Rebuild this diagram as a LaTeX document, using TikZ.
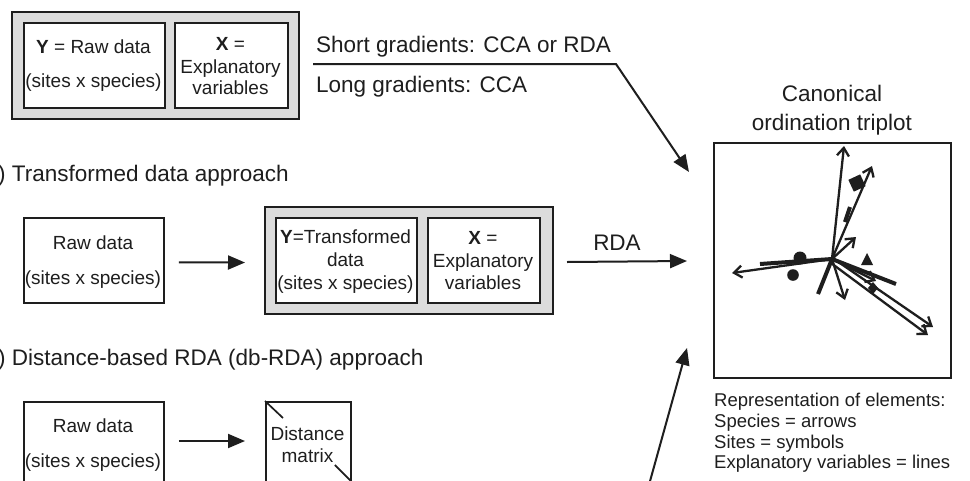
\documentclass[tikz,border=0pt]{standalone}
\usepackage{fontspec}
\setmainfont{Liberation Sans}
\usetikzlibrary{arrows.meta,calc}
\definecolor{boxgray}{HTML}{DCDCDC}
\definecolor{ink}{HTML}{1E1E1E}
\begin{document}
\begin{tikzpicture}[x=1pt,y=-1pt,
  grp/.style={draw=ink, line width=2pt, fill=boxgray, inner sep=0pt, anchor=north west},
  wbox/.style={draw=ink, line width=1.9pt, fill=white, inner sep=0pt, anchor=north west},
  lbl/.style={font=\fontsize{22.5}{27}\selectfont, text=ink, inner sep=0pt, anchor=base west},
  lblc/.style={font=\fontsize{22.5}{27}\selectfont, text=ink, inner sep=0pt, anchor=base},
  btxt/.style={font=\fontsize{19}{22}\selectfont, text=ink, inner sep=0pt, anchor=base},
  lgd/.style={font=\fontsize{18.5}{22}\selectfont, text=ink, inner sep=0pt, anchor=base west},
  flow/.style={draw=ink, line width=2pt, -{Triangle[length=17pt,width=14pt]}},
  spec/.style={draw=ink, line width=2.3pt, -{Straight Barb[length=8pt,width=12pt,line width=2.3pt]}},
  expl/.style={draw=ink, line width=4pt},
  symb/.style={fill=ink, draw=none}
]
\clip (0,0) rectangle (970,480);
\fill[white] (0,0) rectangle (970,480);

% ---------- (a) top group ----------
\node[grp, minimum width=287pt, minimum height=107pt] (grpa) at (11,11) {};
\node[wbox, minimum width=141pt, minimum height=85pt] (ya) at (23,22) {};
\node[wbox, minimum width=113pt, minimum height=85pt] (xa) at (174,22) {};
\node[btxt] (ya1) at (93.5,53) {\textbf{Y} = Raw data};
\node[btxt] (ya2) at (93.5,87) {(sites x species)};
\node[btxt] (xa1) at (230.5,50) {\textbf{X} =};
\node[btxt] (xa2) at (230.5,73) {Explanatory};
\node[btxt] (xa3) at (230.5,94) {variables};

\node[lbl] (shortg) at (316,52) {Short gradients: CCA or RDA};
\node[lbl] (longg) at (316,92) {Long gradients: CCA};
\coordinate (g1) at (313,64);
\coordinate (g2) at (616,64);
\coordinate (t1) at (689,172);
\draw[flow, line join=miter] (g1) -- (g2) -- (t1);

% ---------- (b) ----------
\node[lbl] (titleb) at (-2,181) {) Transformed data approach};
\node[wbox, minimum width=140pt, minimum height=85pt] (rawb) at (23,217) {};
\node[btxt] (rawb1) at (93,249) {Raw data};
\node[btxt] (rawb2) at (93,284) {(sites x species)};

\node[grp, minimum width=288pt, minimum height=107pt] (grpb) at (264,206) {};
\node[wbox, minimum width=141pt, minimum height=85pt] (yb) at (275,217) {};
\node[wbox, minimum width=112pt, minimum height=85pt] (xb) at (427,217) {};
\node[btxt] (yb1) at (345.5,243) {\textbf{Y}=Transformed};
\node[btxt] (yb2) at (345.5,266) {data};
\node[btxt] (yb3) at (345.5,289) {(sites x species)};
\node[btxt] (xb1) at (483,244) {\textbf{X} =};
\node[btxt] (xb2) at (483,267) {Explanatory};
\node[btxt] (xb3) at (483,289) {variables};

\draw[flow] ($(rawb.east)+(14,2)$) -- ($(grpb.west)+(-19,2)$);
\node[lblc] (rda) at (617,250) {RDA};
\coordinate (t2) at (687,261);
\draw[flow] ($(grpb.east)+(13,1.5)$) -- (t2);

% ---------- (c) ----------
\node[lbl] (titlec) at (-2,365) {) Distance-based RDA (db-RDA) approach};
\node[wbox, minimum width=140pt, minimum height=110pt] (rawc) at (23,401) {};
\node[btxt] (rawc1) at (93,432) {Raw data};
\node[btxt] (rawc2) at (93,467) {(sites x species)};
\node[wbox, minimum width=85pt, minimum height=110pt] (dist) at (265,401) {};
\draw[draw=ink, line width=1.7pt] (dist.north west) -- ++(18,17);
\draw[draw=ink, line width=1.7pt] ($(dist.north east)+(-17,64)$) -- ++(19,19);
\node[btxt] (dist1) at (307.5,440) {Distance};
\node[btxt] (dist2) at (307.5,462) {matrix};
\draw[flow] ($(rawc.north east)+(14,40)$) -- ($(dist.north west)+(-20,40)$);

\coordinate (b0) at (647,492);
\coordinate (t3) at (687,348);
\draw[flow] (b0) -- (t3);

% ---------- triplot ----------
\node[lblc] (can1) at (832,101) {Canonical};
\node[lblc] (can2) at (832,130) {ordination triplot};
\node[draw=ink, line width=1.9pt, inner sep=0pt, anchor=north west,
      minimum width=237pt, minimum height=235pt] (plot) at (713,142) {};

\coordinate (O) at (832,259);
% explanatory variables (lines)
\draw[expl] (O) -- (760,264);
\draw[expl] (O) -- (818,294);
\draw[expl] (O) -- (896,284);
\draw[expl] (845,222) -- (850,207);
% species (arrows)
\draw[spec] (O) -- (844,146);
\draw[spec] (O) -- (872,166);
\draw[spec] (O) -- (856,237);
\draw[spec] (O) -- (732,273);
\draw[spec] (O) -- (845,300);
\draw[spec] (O) -- (876,281);
\draw[spec] (834,259) -- (933,327);
\draw[spec] (831,263) -- (928,335);
% sites (symbols)
\fill[symb, rotate around={25:(857,183)}] (850.5,176.5) rectangle (863.5,189.5);
\fill[symb] (800,258) circle (6.5);
\fill[symb] (793,275) circle (5.8);
\fill[symb] (867,253) -- (873,265) -- (861,265) -- cycle;
\fill[symb] (873,282) -- (878,288) -- (873,294) -- (868,288) -- cycle;

% ---------- legend ----------
\node[lgd] (lg1) at (714,406) {Representation of elements:};
\node[lgd] (lg2) at (714,427) {Species = arrows};
\node[lgd] (lg3) at (714,448) {Sites = symbols};
\node[lgd] (lg4) at (714,468) {Explanatory variables = lines};
\end{tikzpicture}
\end{document}
